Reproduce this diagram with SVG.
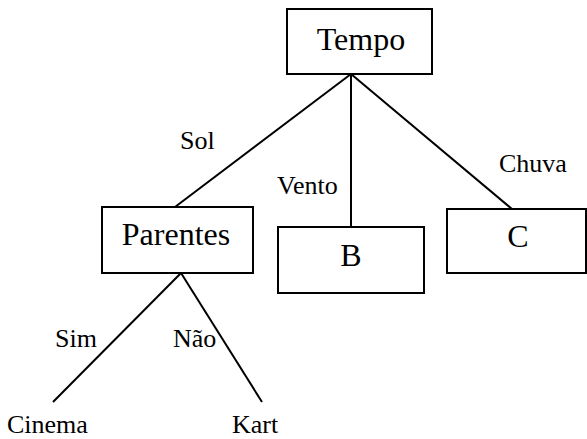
<svg xmlns="http://www.w3.org/2000/svg" width="587" height="439" viewBox="0 0 587 439">
  <style>
    .box { fill: #ffffff; stroke: #000000; stroke-width: 2; }
    .edge { stroke: #000000; stroke-width: 2; fill: none; }
    .title { font-family: "Liberation Serif", "Times New Roman", serif; font-size: 32px; fill: #000000; text-anchor: middle; }
    .lbl { font-family: "Liberation Serif", "Times New Roman", serif; font-size: 26px; fill: #000000; }
  </style>
  <rect width="587" height="439" fill="#ffffff"/>

  <!-- connectors -->
  <g id="edges">
    <line class="edge" x1="351" y1="74" x2="175" y2="207"/>
    <line class="edge" x1="351" y1="74" x2="351" y2="227"/>
    <line class="edge" x1="351" y1="74" x2="512" y2="209"/>
    <line class="edge" x1="181" y1="273" x2="53" y2="402"/>
    <line class="edge" x1="181" y1="273" x2="262" y2="402"/>
    <text class="lbl" x="180" y="149">Sol</text>
    <text class="lbl" x="277" y="194">Vento</text>
    <text class="lbl" x="499" y="172">Chuva</text>
    <text class="lbl" x="55" y="347">Sim</text>
    <text class="lbl" x="173" y="347">Não</text>
  </g>

  <!-- nodes -->
  <g id="tempo">
    <rect class="box" x="287" y="9" width="145" height="65"/>
    <text class="title" x="361" y="50">Tempo</text>
  </g>
  <g id="parentes">
    <rect class="box" x="102" y="207" width="151" height="66"/>
    <text class="title" x="176" y="245">Parentes</text>
  </g>
  <g id="b">
    <rect class="box" x="278" y="227" width="146" height="66"/>
    <text class="title" x="351" y="266">B</text>
  </g>
  <g id="c">
    <rect class="box" x="447" y="209" width="139" height="64"/>
    <text class="title" x="518" y="247">C</text>
  </g>
  <g id="cinema">
    <text class="lbl" x="7" y="433">Cinema</text>
  </g>
  <g id="kart">
    <text class="lbl" x="232" y="433">Kart</text>
  </g>
</svg>
